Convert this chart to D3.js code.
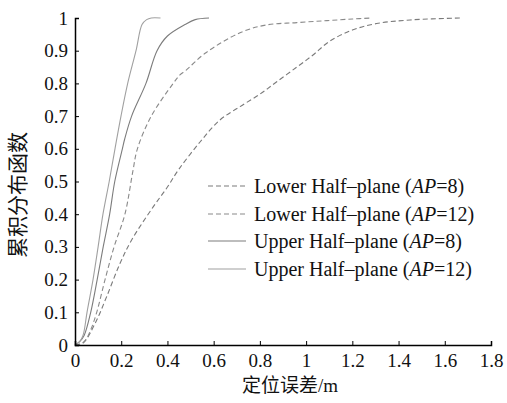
<!DOCTYPE html>
<html lang="zh">
  <head>
    <meta charset="UTF-8" />
    <title>CDF</title>
    <script src="https://cdn.jsdelivr.net/npm/d3@7"></script>
    <style>
      body { margin: 0; background: #fff; }
      .serif { font-family: "Liberation Serif", "Times New Roman", Tinos, "DejaVu Serif", serif; }
      .cjk { font-family: "Noto Sans CJK SC", sans-serif; }
    </style>
  </head>
  <body>
    <div id="container"></div>
    <script>
      // data
      const xTicks = [0, 0.2, 0.4, 0.6, 0.8, 1, 1.2, 1.4, 1.6, 1.8]
      const yTicks = [0, 0.1, 0.2, 0.3, 0.4, 0.5, 0.6, 0.7, 0.8, 0.9, 1]

      const seriesNames = [
        'Lower Half\u2013plane (AP=8)',
        'Lower Half\u2013plane (AP=12)',
        'Upper Half\u2013plane (AP=8)',
        'Upper Half\u2013plane (AP=12)'
      ]

      const lower8X = [0, 0.035, 0.087, 0.137, 0.195, 0.245, 0.339, 0.397, 0.447, 0.54, 0.627, 0.714, 0.8, 0.873, 0.96, 1.03, 1.1, 1.2, 1.305, 1.45, 1.666]
      const lower8Y = [0, 0.006, 0.066, 0.148, 0.25, 0.321, 0.423, 0.48, 0.535, 0.62, 0.688, 0.729, 0.767, 0.805, 0.85, 0.887, 0.928, 0.963, 0.983, 0.994, 1]

      const lower12X = [0, 0.03, 0.05, 0.07, 0.094, 0.13, 0.169, 0.216, 0.25, 0.27, 0.33, 0.425, 0.454, 0.48, 0.563, 0.714, 0.83, 0.96, 1.09, 1.2, 1.28]
      const lower12Y = [0, 0.005, 0.02, 0.05, 0.1, 0.2, 0.3, 0.4, 0.53, 0.6, 0.7, 0.8, 0.826, 0.84, 0.892, 0.955, 0.979, 0.986, 0.992, 0.997, 1]

      const upper8X = [0, 0.02, 0.04, 0.068, 0.096, 0.122, 0.15, 0.172, 0.205, 0.215, 0.245, 0.307, 0.355, 0.4, 0.476, 0.52, 0.58]
      const upper8Y = [0, 0.01, 0.03, 0.1, 0.2, 0.3, 0.4, 0.5, 0.6, 0.63, 0.7, 0.8, 0.9, 0.945, 0.98, 0.995, 1]

      const upper12X = [0, 0.02, 0.035, 0.052, 0.078, 0.1, 0.121, 0.148, 0.173, 0.199, 0.228, 0.264, 0.29, 0.31, 0.33, 0.37]
      const upper12Y = [0, 0.01, 0.03, 0.1, 0.2, 0.3, 0.4, 0.5, 0.6, 0.7, 0.8, 0.9, 0.98, 0.995, 1, 1]

      const width = 507
      const height = 403
      const marginLeft = 75
      const marginRight = 16
      const marginTop = 18
      const marginBottom = 58

      const x = d3.scaleLinear().domain([0, 1.8]).range([marginLeft, width - marginRight])
      const y = d3.scaleLinear().domain([0, 1]).range([height - marginBottom, marginTop])

      const svg = d3.create('svg')
        .attr('width', width)
        .attr('height', height)
        .attr('viewBox', [0, 0, width, height])

      const series = [
        { name: seriesNames[0], xs: lower8X, ys: lower8Y, color: '#7a7a7a', dash: '5,3' },
        { name: seriesNames[1], xs: lower12X, ys: lower12Y, color: '#8a8a8a', dash: '5,3' },
        { name: seriesNames[2], xs: upper8X, ys: upper8Y, color: '#7c7c7c', dash: null },
        { name: seriesNames[3], xs: upper12X, ys: upper12Y, color: '#a0a0a0', dash: null }
      ]

      const line = d3.line()
        .x(d => x(d[0]))
        .y(d => y(d[1]))
        .curve(d3.curveCatmullRom.alpha(0.5))

      svg.append('g')
        .selectAll('path')
        .data(series)
        .join('path')
        .attr('fill', 'none')
        .attr('stroke', d => d.color)
        .attr('stroke-width', 1.1)
        .attr('stroke-dasharray', d => d.dash)
        .attr('d', d => line(d.xs.map((v, i) => [v, d.ys[i]])))

      // x axis, ticks pointing up
      const xAxis = svg.append('g')
        .attr('transform', `translate(0, ${y(0)})`)
        .call(d3.axisBottom(x).tickValues(xTicks).tickSize(-4).tickPadding(9).tickFormat(d3.format('~g')))
      xAxis.attr('font-family', null)
      xAxis.select('.domain').attr('stroke-width', 1.5)
      xAxis.selectAll('text')
        .attr('class', 'serif')
        .attr('font-size', 19)
        .attr('fill', '#111')

      // y axis, ticks pointing right
      const yAxis = svg.append('g')
        .attr('transform', `translate(${x(0)}, 0)`)
        .call(d3.axisLeft(y).tickValues(yTicks).tickSize(-4).tickPadding(7).tickFormat(d3.format('~g')))
      yAxis.attr('font-family', null)
      yAxis.select('.domain').attr('stroke-width', 1.5)
      yAxis.selectAll('text')
        .attr('class', 'serif')
        .attr('font-size', 19)
        .attr('fill', '#111')

      // axis titles
      svg.append('text')
        .attr('class', 'cjk')
        .attr('x', 290)
        .attr('y', 392)
        .attr('text-anchor', 'middle')
        .attr('font-size', 19)
        .attr('fill', '#111')
        .text('定位误差')
        .append('tspan')
        .attr('class', 'serif')
        .text('/m')

      svg.append('text')
        .attr('class', 'cjk')
        .attr('transform', `translate(25, 195) rotate(-90)`)
        .attr('text-anchor', 'middle')
        .attr('font-size', 21)
        .attr('fill', '#111')
        .text('累积分布函数')

      // legend
      const legend = svg.append('g')
      const rowY = [186, 214, 241, 269]
      series.forEach((s, i) => {
        legend.append('line')
          .attr('x1', 208).attr('x2', 246)
          .attr('y1', rowY[i]).attr('y2', rowY[i])
          .attr('stroke', s.color)
          .attr('stroke-width', 1.1)
          .attr('stroke-dasharray', s.dash)
        const label = s.name.match(/^(.*\()AP(=\d+\))$/)
        const t = legend.append('text')
          .attr('class', 'serif')
          .attr('x', 254)
          .attr('y', rowY[i] + 7)
          .attr('font-size', 20)
          .attr('fill', '#111')
        t.append('tspan').text(label[1])
        t.append('tspan').attr('font-style', 'italic').text('AP')
        t.append('tspan').text(label[2])
      })

      document.getElementById('container').append(svg.node())
    </script>
  </body>
</html>
